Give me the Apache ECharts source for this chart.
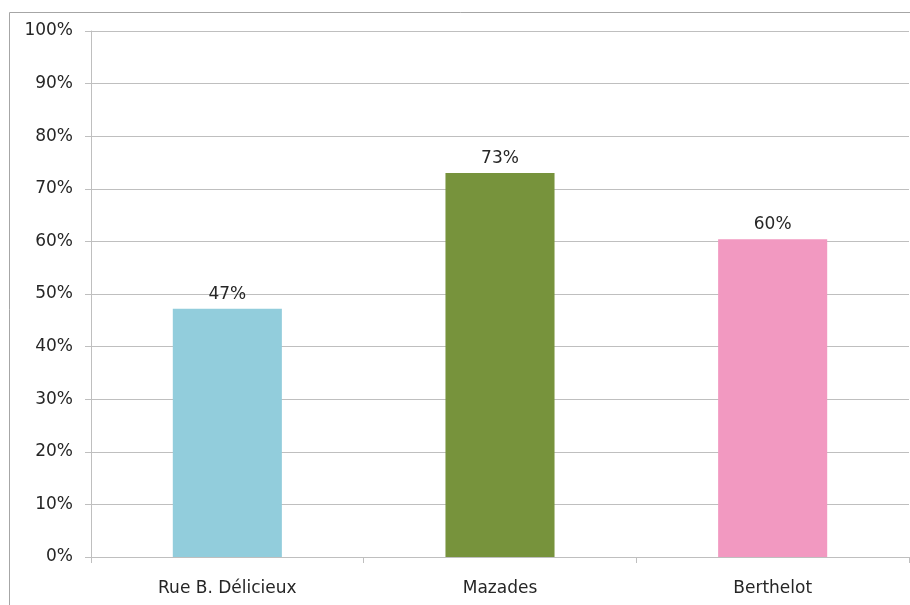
<!DOCTYPE html>
<html><head><meta charset="utf-8">
<script src="https://cdn.jsdelivr.net/npm/echarts@6/dist/echarts.min.js"></script>
<style>html,body{margin:0;padding:0;background:#fff}#c{width:910px;height:605px}</style>
</head><body><div id="c"></div>
<script>
var categories = ["Rue B. Délicieux", "Mazades", "Berthelot"];
var values = [47.2, 73.0, 60.4];
var colors = ["#92CDDC", "#77933C", "#F299C1"];
var yTicks = [0, 10, 20, 30, 40, 50, 60, 70, 80, 90, 100];

var FONT = 'DejaVu Sans, Liberation Sans, Arial';
var chart = echarts.init(document.getElementById('c'), null, {renderer: 'canvas'});
chart.setOption({
  animation: false,
  backgroundColor: '#fff',
  graphic: [{
    type: 'rect', silent: true, z: 100,
    shape: {x: 9.5, y: 12.5, width: 920, height: 620},
    style: {fill: 'none', stroke: '#a6a6a6', lineWidth: 1}
  }],
  grid: {left: 91, right: 1, top: 31, bottom: 48, containLabel: false},
  xAxis: {
    type: 'category', data: categories,
    axisLine: {lineStyle: {color: '#bfbfbf', width: 1}},
    axisTick: {show: true, length: 6, alignWithLabel: false, lineStyle: {color: '#bfbfbf'}},
    axisLabel: {color: '#262626', fontFamily: FONT, fontSize: 17, margin: 23}
  },
  yAxis: {
    type: 'value', min: yTicks[0], max: yTicks[yTicks.length - 1], interval: 10,
    axisLine: {show: true, lineStyle: {color: '#bfbfbf'}},
    axisTick: {show: true, length: 6, lineStyle: {color: '#bfbfbf'}},
    splitLine: {lineStyle: {color: '#bfbfbf', width: 1}},
    axisLabel: {color: '#262626', fontFamily: FONT, fontSize: 17, margin: 18,
      formatter: function (v) { return v + '%'; }}
  },
  series: [{
    type: 'bar',
    barCategoryGap: '60%',
    data: values.map(function (v, i) { return {value: v, itemStyle: {color: colors[i]}}; }),
    label: {show: true, position: 'top', distance: 6, color: '#262626',
      fontFamily: FONT, fontSize: 17,
      formatter: function (p) { return Math.round(p.value) + '%'; }}
  }]
});
</script></body></html>
